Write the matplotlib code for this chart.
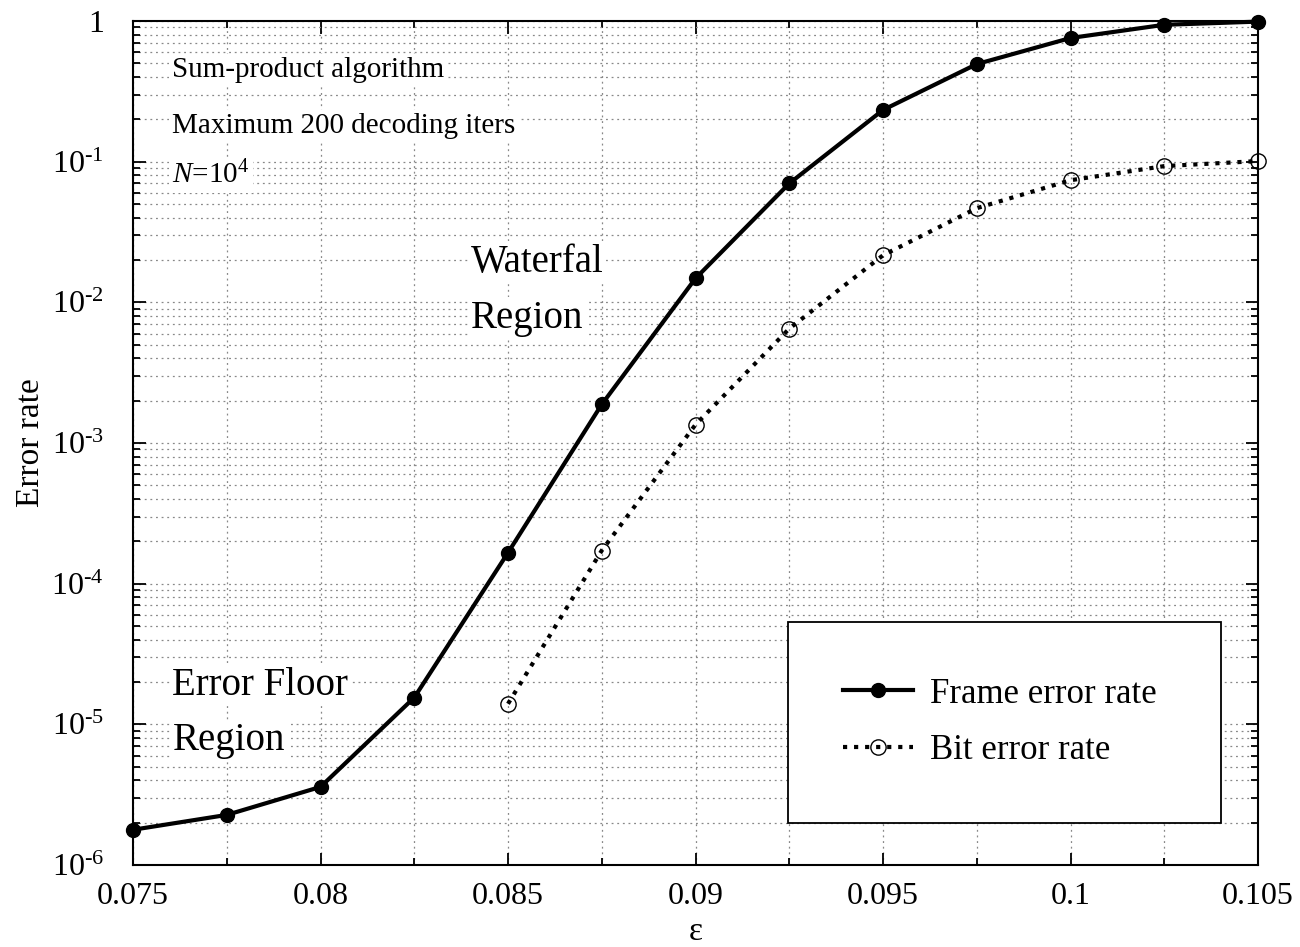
import matplotlib
matplotlib.use("Agg")
import matplotlib.pyplot as plt
from matplotlib.ticker import FixedLocator, LogLocator, NullFormatter, FixedFormatter

plt.rcParams['font.family'] = ['Liberation Serif', 'DejaVu Serif']
plt.rcParams['mathtext.fontset'] = 'custom'
plt.rcParams['mathtext.rm'] = 'Liberation Serif'
plt.rcParams['mathtext.it'] = 'Liberation Serif:italic'

eps = [0.075, 0.0775, 0.08, 0.0825, 0.085, 0.0875, 0.09, 0.0925, 0.095, 0.0975, 0.1, 0.1025, 0.105]
fer = [1.78e-6, 2.27e-6, 3.59e-6, 1.55e-5, 1.66e-4, 1.88e-3, 1.48e-2, 7.0e-2, 0.233, 0.494, 0.757, 0.94, 0.99]
eps_ber = [0.085, 0.0875, 0.09, 0.0925, 0.095, 0.0975, 0.1, 0.1025, 0.105]
ber = [1.4e-5, 1.72e-4, 1.35e-3, 6.5e-3, 0.0216, 0.0467, 0.0738, 0.093, 0.101]

xticks = [0.075, 0.08, 0.085, 0.09, 0.095, 0.1, 0.105]
xticklabels = ['0.075', '0.08', '0.085', '0.09', '0.095', '0.1', '0.105']
xminor = [0.0775, 0.0825, 0.0875, 0.0925, 0.0975, 0.1025]
yticks = [1e-6, 1e-5, 1e-4, 1e-3, 1e-2, 1e-1, 1]
yticklabels = [r'$\mathregular{10^{\text{-}6}}$', r'$\mathregular{10^{\text{-}5}}$', r'$\mathregular{10^{\text{-}4}}$',
               r'$\mathregular{10^{\text{-}3}}$', r'$\mathregular{10^{\text{-}2}}$', r'$\mathregular{10^{\text{-}1}}$', '1']

fig = plt.figure(figsize=(13, 9.47), dpi=100)
ax = fig.add_axes([133/1300, 1-865/947, 1125/1300, 844/947])

ax.set_yscale('log')
ax.set_xlim(0.075, 0.105)
ax.set_ylim(1e-6, 1)

ax.plot(eps, fer, '-', color='black', lw=3, marker='o', ms=10,
        markerfacecolor='black', markeredgecolor='black', label='Frame error rate', zorder=5, clip_on=False)
ax.plot(eps_ber, ber, ':', color='black', lw=3, marker='o', ms=11,
        markerfacecolor='none', markeredgecolor='black', markeredgewidth=1.0,
        label='Bit error rate', zorder=5, clip_on=False)

ax.xaxis.set_major_locator(FixedLocator(xticks))
ax.xaxis.set_major_formatter(FixedFormatter(xticklabels))
ax.xaxis.set_minor_locator(FixedLocator(xminor))
ax.yaxis.set_major_locator(FixedLocator(yticks))
ax.yaxis.set_major_formatter(FixedFormatter(yticklabels))
ax.yaxis.set_minor_locator(LogLocator(base=10, subs=range(2, 10), numticks=20))
ax.yaxis.set_minor_formatter(NullFormatter())

ax.tick_params(which='both', direction='in', top=True, right=True, labelsize=23, width=1.3)
ax.tick_params(which='major', length=9)
ax.tick_params(which='minor', length=5)
ax.tick_params(axis='x', pad=12)
ax.tick_params(axis='y', pad=21)

ax.grid(True, which='both', axis='both', color='#888888', linestyle=(0, (1.5, 3)), linewidth=0.9)
ax.set_axisbelow(True)
for s in ax.spines.values():
    s.set_linewidth(1.5)

ax.set_xlabel('ε', fontsize=24, labelpad=4)
ax.set_ylabel('Error rate', fontsize=24, labelpad=4)

bbox_w = dict(facecolor='white', edgecolor='none', pad=2)
ax.text(0.035, 0.942, 'Sum-product algorithm', transform=ax.transAxes, fontsize=21, va='center', bbox=bbox_w)
ax.text(0.035, 0.876, 'Maximum 200 decoding iters', transform=ax.transAxes, fontsize=21, va='center', bbox=bbox_w)
ax.text(0.035, 0.817, r'$\mathit{N}$=10$^{4}$', transform=ax.transAxes, fontsize=21, va='center', bbox=bbox_w)
ax.text(0.300, 0.714, 'Waterfal', transform=ax.transAxes, fontsize=28, va='center', bbox=bbox_w)
ax.text(0.300, 0.648, 'Region', transform=ax.transAxes, fontsize=28, va='center', bbox=bbox_w)
ax.text(0.035, 0.213, 'Error Floor', transform=ax.transAxes, fontsize=28, va='center', bbox=bbox_w)
ax.text(0.035, 0.147, 'Region', transform=ax.transAxes, fontsize=28, va='center', bbox=bbox_w)

leg = ax.legend(loc='lower left', bbox_to_anchor=(0.582, 0.050, 0.385, 0.233), mode='expand',
                fontsize=25, frameon=True, fancybox=False, borderpad=1.6, labelspacing=0.68,
                handlelength=2.0, handletextpad=0.5, borderaxespad=0)
leg._legend_box.align = 'left'
leg.get_frame().set_edgecolor('black')
leg.get_frame().set_linewidth(1.3)
leg.get_frame().set_alpha(1)

fig.savefig('out.png', dpi=100)
